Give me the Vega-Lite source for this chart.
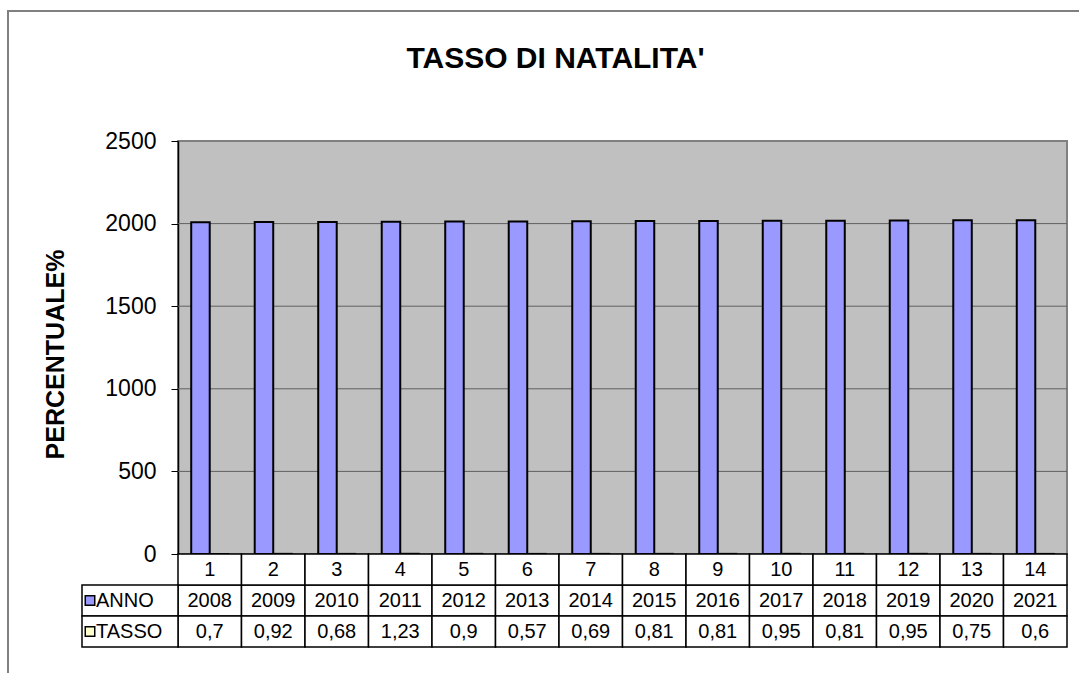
{
  "$schema": "https://vega.github.io/schema/vega-lite/v6.json",
  "width": 889,
  "height": 413,
  "autosize": {"type": "none"},
  "padding": {"left": 178, "top": 141, "right": 12, "bottom": 119},
  "background": "white",
  "title": {"text": "TASSO DI NATALITA'", "anchor": "middle", "frame": "group", "dx": -67, "offset": -88, "fontSize": 30, "fontWeight": "bold", "font": "Liberation Sans", "color": "black", "baseline": "alphabetic"},
  "config": {
    "font": "Liberation Sans",
    "view": {"fill": "#C0C0C0", "stroke": "#808080", "strokeWidth": 2},
    "locale": {"number": {"decimal": ",", "thousands": ".", "grouping": [3], "currency": ["", " €"]}}
  },
  "data": {"values": [
    {"n": 1, "serie": "ANNO", "valore": 2008}, {"n": 1, "serie": "TASSO", "valore": 0.7},
    {"n": 2, "serie": "ANNO", "valore": 2009}, {"n": 2, "serie": "TASSO", "valore": 0.92},
    {"n": 3, "serie": "ANNO", "valore": 2010}, {"n": 3, "serie": "TASSO", "valore": 0.68},
    {"n": 4, "serie": "ANNO", "valore": 2011}, {"n": 4, "serie": "TASSO", "valore": 1.23},
    {"n": 5, "serie": "ANNO", "valore": 2012}, {"n": 5, "serie": "TASSO", "valore": 0.9},
    {"n": 6, "serie": "ANNO", "valore": 2013}, {"n": 6, "serie": "TASSO", "valore": 0.57},
    {"n": 7, "serie": "ANNO", "valore": 2014}, {"n": 7, "serie": "TASSO", "valore": 0.69},
    {"n": 8, "serie": "ANNO", "valore": 2015}, {"n": 8, "serie": "TASSO", "valore": 0.81},
    {"n": 9, "serie": "ANNO", "valore": 2016}, {"n": 9, "serie": "TASSO", "valore": 0.81},
    {"n": 10, "serie": "ANNO", "valore": 2017}, {"n": 10, "serie": "TASSO", "valore": 0.95},
    {"n": 11, "serie": "ANNO", "valore": 2018}, {"n": 11, "serie": "TASSO", "valore": 0.81},
    {"n": 12, "serie": "ANNO", "valore": 2019}, {"n": 12, "serie": "TASSO", "valore": 0.95},
    {"n": 13, "serie": "ANNO", "valore": 2020}, {"n": 13, "serie": "TASSO", "valore": 0.75},
    {"n": 14, "serie": "ANNO", "valore": 2021}, {"n": 14, "serie": "TASSO", "valore": 0.6}
  ]},
  "layer": [
    {
      "data": {"values": [{}]},
      "mark": {"type": "rect", "filled": false, "stroke": "#808080", "strokeWidth": 2},
      "encoding": {
        "x": {"datum": "f", "type": "nominal", "scale": {"domain": ["f"], "range": [-170, 940], "paddingInner": 0, "paddingOuter": 0}, "axis": null},
        "y": {"datum": "f", "type": "nominal", "scale": {"domain": ["f"], "range": [-130, 560], "paddingInner": 0, "paddingOuter": 0}, "axis": null}
      }
    },
    {
      "layer": [
        {
          "data": {"values": [{"g": 500}, {"g": 1000}, {"g": 1500}, {"g": 2000}]},
          "mark": {"type": "rule", "color": "#606060", "strokeWidth": 1},
          "encoding": {
            "y": {"field": "g", "type": "quantitative", "scale": {"domain": [0, 2500], "nice": false, "zero": true}}
          }
        },
        {
          "mark": {"type": "bar", "stroke": "black", "strokeWidth": 2},
          "encoding": {
            "x": {"field": "n", "type": "ordinal", "scale": {"paddingInner": 0.417, "paddingOuter": 0.208}, "axis": null},
            "xOffset": {"field": "serie", "type": "nominal", "scale": {"domain": ["ANNO", "TASSO"], "paddingInner": 0, "paddingOuter": 0}},
            "y": {"field": "valore", "type": "quantitative", "scale": {"domain": [0, 2500], "nice": false, "zero": true},
              "axis": {"orient": "left", "values": [0, 500, 1000, 1500, 2000, 2500], "format": "d", "grid": false,
                "domainColor": "black", "domainWidth": 1.5, "tickColor": "black", "tickSize": 7, "tickWidth": 1,
                "labelFontSize": 23, "labelColor": "black", "labelPadding": 15, "labelFont": "Liberation Sans",
                "title": "PERCENTUALE%", "titleFontSize": 25, "titleFontWeight": "bold", "titleColor": "black", "titleFont": "Liberation Sans",
                "titleX": -123, "titleY": 213, "titleBaseline": "middle", "titleAlign": "center", "titleAngle": -90}},
            "color": {"field": "serie", "type": "nominal", "scale": {"domain": ["ANNO", "TASSO"], "range": ["#9999FF", "#FFFFCC"]}, "legend": null}
          }
        }
      ]
    },
    {
      "layer": [
        {
          "layer": [
            {
              "mark": {"type": "rect", "fill": "white", "stroke": "black", "strokeWidth": 1.5},
              "encoding": {
                "x": {"field": "n", "type": "ordinal", "scale": {"paddingInner": 0, "paddingOuter": 0}, "axis": null},
                "y": {"field": "serie", "type": "nominal", "scale": {"domain": ["cat", "ANNO", "TASSO"], "range": [413, 506], "paddingInner": 0, "paddingOuter": 0}, "axis": null}
              }
            },
            {
              "transform": [{"filter": "datum.serie === 'ANNO'"}],
              "mark": {"type": "rect", "fill": "white", "stroke": "black", "strokeWidth": 1.5},
              "encoding": {
                "x": {"field": "n", "type": "ordinal", "axis": null},
                "y": {"datum": "cat", "type": "nominal", "axis": null}
              }
            },
            {
              "mark": {"type": "text", "fontSize": 20, "color": "black", "font": "Liberation Sans"},
              "encoding": {
                "x": {"field": "n", "type": "ordinal", "axis": null},
                "y": {"field": "serie", "type": "nominal", "axis": null},
                "text": {"field": "valore", "type": "quantitative", "format": "~g"}
              }
            },
            {
              "transform": [{"filter": "datum.serie === 'ANNO'"}],
              "mark": {"type": "text", "fontSize": 20, "color": "black", "font": "Liberation Sans"},
              "encoding": {
                "x": {"field": "n", "type": "ordinal", "axis": null},
                "y": {"datum": "cat", "type": "nominal", "axis": null},
                "text": {"field": "n", "type": "ordinal"}
              }
            }
          ]
        },
        {
          "transform": [{"filter": "datum.n === 1"}],
          "layer": [
            {
              "mark": {"type": "rect", "fill": "white", "stroke": "black", "strokeWidth": 1.5},
              "encoding": {
                "x": {"datum": "h", "type": "nominal", "scale": {"domain": ["h"], "range": [-96, 0], "paddingInner": 0, "paddingOuter": 0}, "axis": null},
                "y": {"field": "serie", "type": "nominal", "axis": null}
              }
            },
            {
              "mark": {"type": "point", "shape": "square", "filled": true, "size": 90, "stroke": "black", "strokeWidth": 1.5, "opacity": 1, "xOffset": 8},
              "encoding": {
                "x": {"datum": "h", "type": "nominal", "bandPosition": 0, "axis": null},
                "y": {"field": "serie", "type": "nominal", "axis": null},
                "color": {"field": "serie", "type": "nominal", "legend": null}
              }
            },
            {
              "mark": {"type": "text", "align": "left", "dx": 14, "fontSize": 20, "color": "black", "font": "Liberation Sans"},
              "encoding": {
                "x": {"datum": "h", "type": "nominal", "bandPosition": 0, "axis": null},
                "y": {"field": "serie", "type": "nominal", "axis": null},
                "text": {"field": "serie", "type": "nominal"}
              }
            }
          ]
        }
      ],
      "resolve": {"scale": {"x": "independent"}}
    }
  ],
  "resolve": {"scale": {"x": "independent", "y": "independent"}}
}
